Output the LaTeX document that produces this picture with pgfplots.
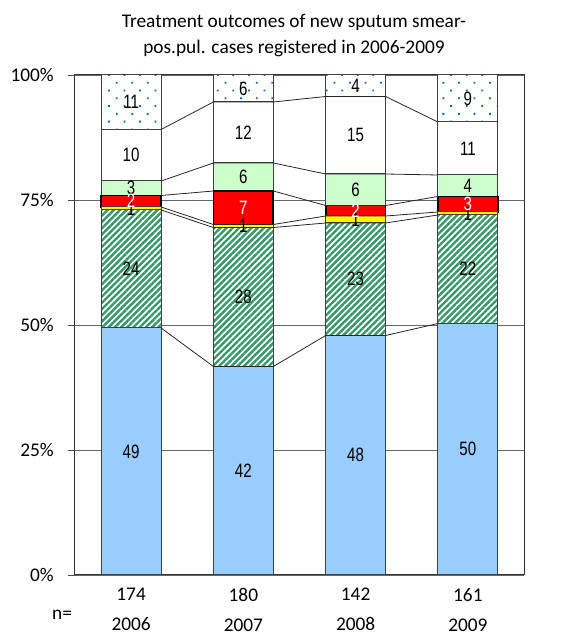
\documentclass[border=0pt]{standalone}
\usepackage{fontspec}
\setmainfont{Carlito}
\newfontfamily\lblfont[FakeStretch=0.78]{Liberation Sans}
\usepackage{pgfplots}
\pgfplotsset{compat=1.18}
\usepackage{pgfplotstable}
\usetikzlibrary{patterns.meta}
\definecolor{barblue}{HTML}{99CCFF}
\definecolor{hatchgreen}{HTML}{339966}
\definecolor{lightgreen}{HTML}{CCFFCC}
\definecolor{dotblue}{HTML}{0066CC}

% shares (%) of each outcome, from bottom to top
\pgfplotstableread{
x cured completed failed died defaulted transferred noteval
0 49.4 23.6 0.6 2.3 2.9 10.3 10.9
1 41.7 27.8 0.6 6.7 5.6 12.2 5.4
2 47.9 22.5 1.4 2.1 6.3 15.5 4.3
3 50.3 21.7 0.6 3.1 4.3 10.6 9.4
}\outcomes

% series lines: cumulative tops at the bar edges
\pgfplotstableread{
x b1 b2 b3 b4 b5 b6
0.267 49.4 73.0 73.6 75.9 78.8 89.1
0.733 41.7 69.5 70.1 76.8 82.4 94.6
1.267 41.7 69.5 70.1 76.8 82.4 94.6
1.733 47.9 70.4 71.8 73.9 80.2 95.7
2.267 47.9 70.4 71.8 73.9 80.2 95.7
2.733 50.3 72.0 72.6 75.7 80.0 90.6
}\serieslines

% data labels at segment centres
\pgfplotstableread{
x y lab
0 24.7 49
0 61.2 24
0 73.3 1
0 77.35 3
0 83.95 10
0 94.55 11
1 20.85 42
1 55.6 28
1 69.8 1
1 79.6 6
1 88.5 12
1 97.3 6
2 23.95 48
2 59.15 23
2 71.1 1
2 77.05 6
2 87.95 15
2 97.85 4
3 25.15 50
3 61.15 22
3 72.3 1
3 77.85 4
3 85.3 11
3 95.3 9
}\blacklabels
\pgfplotstableread{
x y lab
0 74.75 2
1 73.45 7
2 72.85 2
3 74.15 3
}\whitelabels

\begin{document}
\begin{tikzpicture}
\useasboundingbox (-56.25pt,-45pt) rectangle (382.5pt,431.25pt);
\begin{axis}[
  at={(0pt,0pt)}, anchor=south west,
  width=336.75pt, height=375pt, scale only axis,
  xmin=-0.5, xmax=3.5, ymin=0, ymax=100,
  ybar stacked, bar width=0.534,
  xtick={0,1,2,3},
  xticklabels={{174\\2006},{180\\2007},{142\\2008},{161\\2009}},
  x tick label style={align=center, font=\fontsize{14.5}{22.5}\selectfont, anchor=north, inner sep=0pt},
  xticklabel shift=4.5pt,
  major x tick style={draw=none},
  ytick={0,25,50,75,100},
  yticklabels={0\%,25\%,50\%,75\%,100\%},
  y tick label style={font=\fontsize{14.5}{17}\selectfont, anchor=east, inner sep=0pt},
  yticklabel shift=10.5pt,
  tick align=outside, ytick pos=left, xtick pos=bottom,
  major tick length=5.25pt,
  ymajorgrids, major grid style={black!60, line width=0.6pt},
  axis line style={black!80, line width=0.75pt},
  major y tick style={black!70, line width=0.6pt},
]
\addplot[fill=barblue, draw=black!75, line width=0.75pt] table[x=x,y=cured]{\outcomes};
\addplot[preaction={fill=white}, pattern={Lines[angle=45,distance=3.3pt,line width=1.8pt]}, pattern color=hatchgreen, draw=black!75, line width=0.75pt] table[x=x,y=completed]{\outcomes};
\addplot[fill=yellow, draw=black!75, line width=0.75pt] table[x=x,y=failed]{\outcomes};
\addplot[fill=red, draw=black, line width=1.3pt] table[x=x,y=died]{\outcomes};
\addplot[fill=lightgreen, draw=black!75, line width=0.75pt] table[x=x,y=defaulted]{\outcomes};
\addplot[fill=white, draw=black!75, line width=0.75pt] table[x=x,y=transferred]{\outcomes};
\addplot[preaction={fill=white}, pattern={Dots[angle=45,distance=8.25pt,radius=0.95pt]}, pattern color=dotblue, draw=black!75, line width=0.75pt] table[x=x,y=noteval]{\outcomes};
\end{axis}
\begin{axis}[
  at={(0pt,0pt)}, anchor=south west,
  width=336.75pt, height=375pt, scale only axis,
  xmin=-0.5, xmax=3.5, ymin=0, ymax=100,
  hide axis, clip=false,
]
\foreach \c in {b1,b2,b3,b4,b5,b6}{
  \addplot[black!85, line width=0.6pt, mark=none] table[x=x,y=\c]{\serieslines};
}
\addplot[draw=none, mark=none, nodes near coords={\pgfplotspointmeta}, point meta=explicit symbolic,
  nodes near coords align=center,
  every node near coord/.append style={font=\lblfont\fontsize{14.5}{16}\selectfont, text=black, inner sep=0pt}]
  table[x=x,y=y,meta=lab]{\blacklabels};
\addplot[draw=none, mark=none, nodes near coords={\pgfplotspointmeta}, point meta=explicit symbolic,
  nodes near coords align=center,
  every node near coord/.append style={font=\lblfont\fontsize{14.5}{16}\selectfont, text=white, inner sep=0pt}]
  table[x=x,y=y,meta=lab]{\whitelabels};
\end{axis}
\node[font=\fontsize{14.5}{17}\selectfont] at (-9.75pt,-29.5pt) {n=};
\node[align=center, font=\fontsize{14.5}{19.5}\selectfont] at (164.25pt,404.5pt) {Treatment outcomes of new sputum smear-\\pos.pul. cases registered in 2006-2009};
\end{tikzpicture}
\end{document}
